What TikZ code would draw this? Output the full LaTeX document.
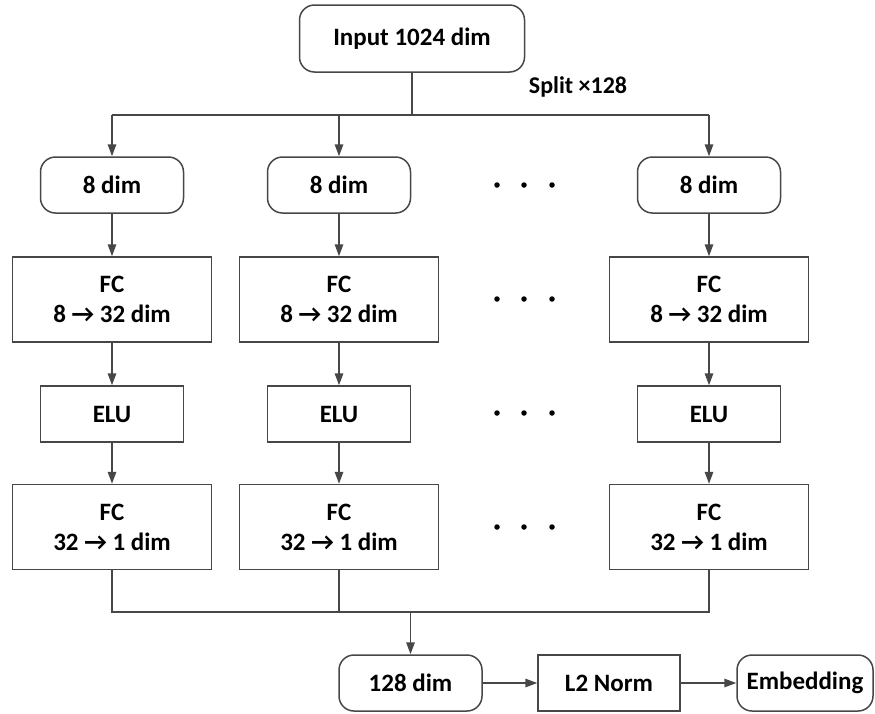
\documentclass[tikz,border=0pt]{standalone}
\usepackage{fontspec}
\setmainfont{Carlito}
\usetikzlibrary{arrows.meta}
\definecolor{linegray}{HTML}{474747}
\begin{document}
\begin{tikzpicture}[x=1pt,y=-1pt,
  box/.style={draw=linegray,line width=1.5pt,fill=white,align=center,
    font=\bfseries\fontsize{25}{30}\selectfont,inner sep=0pt},
  rbox/.style={box,rounded corners=15pt},
  conn/.style={draw=linegray,line width=1.5pt},
  arr/.style={conn,-{Triangle[length=12pt,width=8.5pt]}},
  dotn/.style={circle,fill=black,inner sep=0pt,minimum size=5.5pt},
  small/.style={minimum width=143pt,minimum height=56pt},
  wide/.style={minimum width=199pt,minimum height=85pt}]
\useasboundingbox (0,0) rectangle (875,713);
% top
\node[rbox,minimum width=225pt,minimum height=67pt] (in) at (412,38.5) {Input 1024 dim};
\node[font=\bfseries\fontsize{24}{28}\selectfont] (split) at (578,87) {Split ×128};
% columns
\foreach \i/\cx in {1/112,2/339,4/709}{
  \node[rbox,small] (d\i) at (\cx,185) {8 dim};
  \node[box,wide] (f\i) at (\cx,299.5) {FC\\8 → 32 dim};
  \node[box,small] (e\i) at (\cx,414) {ELU};
  \node[box,wide] (g\i) at (\cx,527) {FC\\32 → 1 dim};
}
% dots
\foreach \y [count=\r] in {185,299,413,527}{
  \foreach \x [count=\k] in {497,524,552}{
    \node[dotn] (dot\r\k) at (\x,\y) {};
  }
}
% bottom row
\node[rbox,small] (b128) at (410.5,683) {128 dim};
\node[box,minimum width=142pt,minimum height=56pt] (l2) at (609,683) {L2 Norm};
\node[rbox,minimum width=136pt,minimum height=56pt] (emb) at (805,683) {Embedding};
% split connectors
\coordinate (sj) at (in.south |- 0,115);
\draw[conn] (in.south) -- (sj);
\draw[conn] (sj -| d1.north) -- (sj -| d4.north);
\foreach \i in {1,2,4}{
  \draw[arr] (sj -| d\i.north) -- (d\i.north);
  \draw[arr] (d\i) -- (f\i);
  \draw[arr] (f\i) -- (e\i);
  \draw[arr] (e\i) -- (g\i);
}
% merge
\coordinate (mj) at (b128.north |- 0,612);
\draw[conn] (g1.south) -- (g1.south |- mj) -- (g4.south |- mj) -- (g4.south);
\draw[conn] (g2.south) -- (g2.south |- mj);
\draw[arr] (mj) -- (b128.north);
\draw[arr] (b128) -- (l2);
\draw[arr] (l2) -- (emb);
\end{tikzpicture}
\end{document}
